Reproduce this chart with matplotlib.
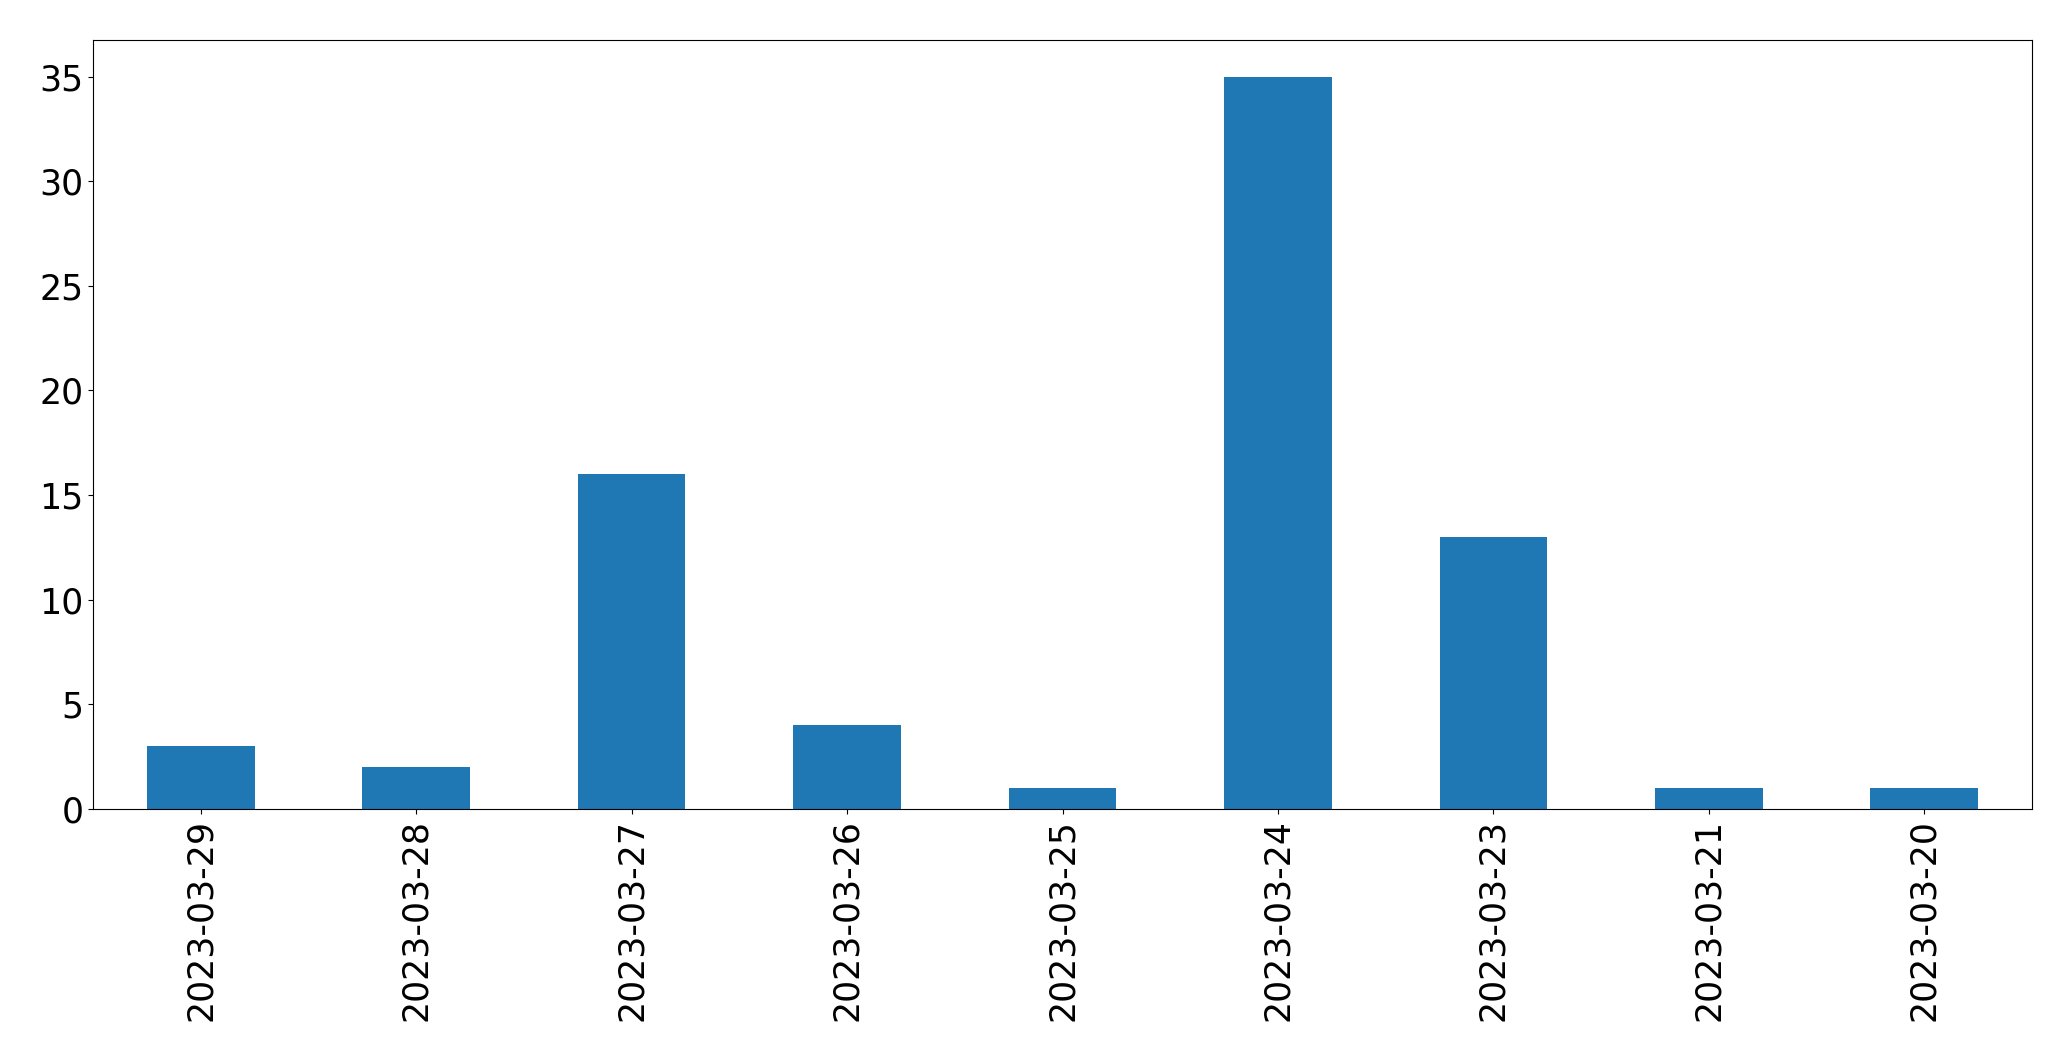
import numpy as np
import matplotlib
matplotlib.use("Agg")
import matplotlib.pyplot as plt

dates = ["2023-03-29", "2023-03-28", "2023-03-27", "2023-03-26", "2023-03-25",
         "2023-03-24", "2023-03-23", "2023-03-21", "2023-03-20"]
counts = [3, 2, 16, 4, 1, 35, 13, 1, 1]

fig = plt.figure(figsize=(20.71, 10.61), dpi=100)
ax = fig.add_axes([93 / 2071, 1 - 809 / 1061, (2032 - 93) / 2071, (809 - 40) / 1061])

x = np.arange(len(dates))
ax.bar(x, counts, width=0.5, color="#1f77b4")
ax.set_xlim(-0.5, len(dates) - 0.5)
ax.set_ylim(0, 36.75)
ax.set_xticks(x)
ax.set_xticklabels(dates, rotation=90)
ax.tick_params(labelsize=25)

fig.savefig("out.png", dpi=100)
